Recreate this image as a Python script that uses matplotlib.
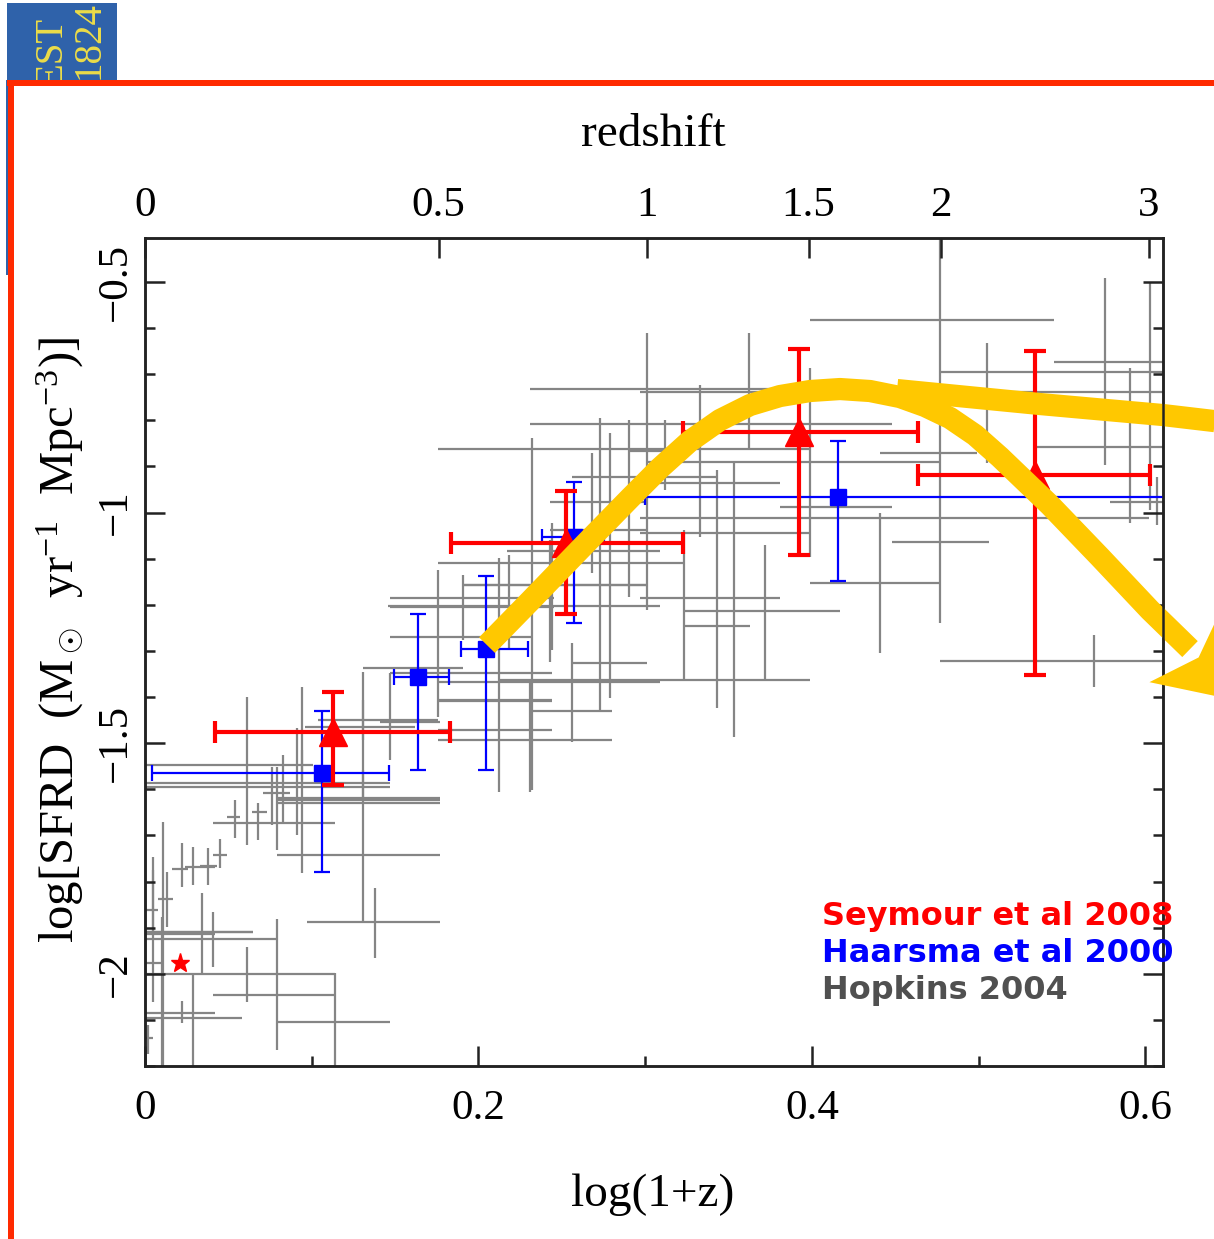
import numpy as np
import matplotlib
matplotlib.use("Agg")
import matplotlib.pyplot as plt
from matplotlib.patches import Rectangle, Polygon
from matplotlib.transforms import IdentityTransform

plt.rcParams['font.family'] = ['Liberation Serif', 'DejaVu Serif']
plt.rcParams['mathtext.fontset'] = 'custom'
plt.rcParams['mathtext.rm'] = 'Liberation Serif'
plt.rcParams['mathtext.it'] = 'Liberation Serif:italic'

# Seymour et al 2008 (red triangles), log(1+z) vs log SFRD
sey_x = np.array([0.113, 0.2525, 0.392, 0.534])
sey_y = np.array([-1.476, -1.066, -0.825, -0.919])
sey_xlo = np.array([0.042, 0.1835, 0.3226, 0.4636])
sey_xhi = np.array([0.183, 0.3226, 0.4636, 0.6027])
sey_ylo = np.array([-1.591, -1.220, -1.092, -1.352])
sey_yhi = np.array([-1.389, -0.953, -0.645, -0.650])
star_x = [0.021]
star_y = [-1.977]

# Haarsma et al 2000 (blue squares)
haa_x = np.array([0.106, 0.164, 0.2045, 0.257, 0.4156])
haa_y = np.array([-1.565, -1.357, -1.296, -1.053, -0.966])
haa_xlo = np.array([0.0042, 0.1493, 0.1895, 0.2381, 0.300])
haa_xhi = np.array([0.1463, 0.1823, 0.2297, 0.2753, 0.700])
haa_ylo = np.array([-1.780, -1.559, -1.559, -1.240, -1.149])
haa_yhi = np.array([-1.431, -1.220, -1.138, -0.934, -0.845])

# Hopkins 2004 compilation (grey crosses): x, y, x range, y range
hop_x = np.array([0.011, 0.005, 0.013, 0.022, 0.029, 0.038, 0.045, 0.054, 0.061, 0.068,
                  0.034, 0.041, 0.114, 0.029, 0.022, 0.061, 0.079, 0.002, 0.010, 0.005,
                  0.131, 0.138, 0.076, 0.091, 0.083, 0.079, 0.094, 0.094, 0.131, 0.147,
                  0.131, 0.117, 0.176, 0.191, 0.212, 0.218, 0.232, 0.231, 0.244, 0.243,
                  0.256, 0.273, 0.279, 0.225, 0.213, 0.210, 0.225, 0.195, 0.290, 0.268,
                  0.362, 0.333, 0.301, 0.309, 0.312, 0.333, 0.343, 0.353, 0.372, 0.369,
                  0.399, 0.477, 0.505, 0.576, 0.591, 0.603, 0.607, 0.441, 0.477, 0.569,
                  0.465, 0.309, 0.249, 0.353, 0.323])
hop_y = np.array([-1.910, -1.925, -1.838, -1.773, -1.769, -1.767, -1.743, -1.661, -1.674, -1.650,
                  -1.914, -1.910, -2.001, -2.084, -2.097, -2.045, -2.105, -2.140, -1.977, -1.862,
                  -1.743, -1.888, -1.609, -1.624, -1.619, -1.630, -1.595, -1.548, -1.587, -1.454,
                  -1.450, -1.465, -1.337, -1.157, -1.205, -1.270, -1.186, -1.407, -1.038, -1.084,
                  -1.327, -1.431, -1.157, -1.494, -1.472, -1.409, -1.368, -1.348, -1.110, -0.977,
                  -0.732, -0.808, -0.891, -0.862, -0.867, -0.923, -1.012, -0.936, -1.186, -1.214,
                  -0.988, -0.582, -0.739, -0.695, -0.858, -0.674, -0.977, -1.153, -1.064, -1.322,
                  -0.871, -1.045, -1.203, -1.246, -1.363])
hop_xlo = np.array([-0.003, -0.003, 0.008, 0.016, 0.024, 0.033, 0.041, 0.049, 0.041, 0.064,
                    -0.003, -0.003, -0.003, -0.003, -0.003, 0.041, 0.079, -0.003, -0.003, -0.003,
                    0.079, 0.097, 0.071, 0.079, 0.079, 0.079, -0.003, -0.003, -0.003, 0.141,
                    0.104, 0.096, 0.131, 0.191, 0.147, 0.147, 0.147, 0.176, 0.243, 0.217,
                    0.256, 0.231, 0.191, 0.176, 0.176, 0.176, 0.176, 0.147, 0.176, 0.243,
                    0.231, 0.231, 0.301, 0.176, 0.291, 0.256, 0.297, 0.297, 0.297, 0.323,
                    0.381, 0.399, 0.297, 0.477, 0.533, 0.545, 0.579, 0.399, 0.448, 0.477,
                    0.441, 0.297, 0.146, 0.323, 0.212])
hop_xhi = np.array([0.065, 0.079, 0.017, 0.026, 0.042, 0.043, 0.049, 0.057, 0.114, 0.073,
                    0.042, 0.065, 0.114, 0.042, 0.058, 0.114, 0.147, 0.005, 0.010, 0.008,
                    0.177, 0.177, 0.087, 0.177, 0.177, 0.177, 0.147, 0.101, 0.147, 0.177,
                    0.176, 0.162, 0.191, 0.301, 0.245, 0.232, 0.245, 0.244, 0.301, 0.309,
                    0.301, 0.280, 0.301, 0.280, 0.244, 0.244, 0.309, 0.244, 0.323, 0.301,
                    0.429, 0.448, 0.477, 0.399, 0.314, 0.343, 0.602, 0.381, 0.381, 0.417,
                    0.448, 0.545, 0.615, 0.615, 0.615, 0.615, 0.615, 0.477, 0.506, 0.615,
                    0.499, 0.399, 0.309, 0.363, 0.399])
hop_ylo = np.array([-2.209, -2.062, -1.899, -1.812, -1.808, -1.808, -1.771, -1.706, -1.721, -1.710,
                    -1.999, -1.986, -2.209, -2.209, -2.107, -2.062, -2.166, -2.173, -2.209, -1.917,
                    -1.888, -1.966, -1.678, -1.700, -1.671, -1.732, -1.782, -1.580, -1.624, -1.537,
                    -1.494, -1.465, -1.444, -1.277, -1.606, -1.298, -1.602, -1.606, -1.298, -1.324,
                    -1.498, -1.433, -1.402, -1.494, -1.472, -1.409, -1.368, -1.348, -1.183, -1.131,
                    -0.860, -1.053, -1.212, -0.862, -0.951, -0.923, -1.424, -1.196, -1.363, -1.214,
                    -1.097, -1.240, -0.893, -0.897, -1.023, -0.995, -1.027, -1.305, -1.064, -1.379,
                    -0.871, -1.045, -1.203, -1.487, -1.363])
hop_yhi = np.array([-1.671, -1.747, -1.780, -1.717, -1.726, -1.728, -1.708, -1.624, -1.400, -1.630,
                    -1.825, -1.867, -1.999, -2.003, -2.058, -1.943, -1.882, -2.112, -1.877, -1.776,
                    -1.346, -1.815, -1.552, -1.468, -1.526, -1.552, -1.379, -1.515, -1.559, -1.348,
                    -1.407, -1.465, -1.125, -1.136, -1.099, -1.092, -0.838, -1.370, -1.023, -1.060,
                    -1.283, -0.795, -0.828, -1.494, -1.472, -1.409, -1.368, -1.348, -0.799, -0.871,
                    -0.611, -0.723, -0.611, -0.862, -0.799, -0.923, -0.908, -0.893, -1.071, -1.214,
                    -0.687, -0.387, -0.632, -0.491, -0.687, -0.500, -0.923, -1.001, -1.064, -1.266,
                    -0.871, -1.045, -1.203, -1.196, -1.038])

# hand-drawn yellow arrows laid over the slide
arrow1_x = np.array([0.2051, 0.2309, 0.2651, 0.2909, 0.3088, 0.3268, 0.3448, 0.3628, 0.3808,
                     0.3988, 0.4168, 0.4348, 0.4528, 0.4678, 0.4828, 0.4978, 0.5127, 0.5277,
                     0.5427, 0.5727, 0.6027, 0.6267])
arrow1_y = np.array([-1.2874, -1.1920, -1.0640, -0.9685, -0.9035, -0.8449, -0.7993, -0.7668,
                     -0.7473, -0.7364, -0.7321, -0.7364, -0.7495, -0.7690, -0.7950, -0.8319,
                     -0.8796, -0.9317, -0.9837, -1.0965, -1.2115, -1.2960])
arrow2_x = np.array([0.451, 0.5367, 0.6105, 0.6411, 0.6507])
arrow2_y = np.array([-0.7343, -0.7646, -0.7885, -0.8015, -0.8060])

z_ticks = [0, 0.5, 1, 1.5, 2, 3]
z_labels = ['0', '0.5', '1', '1.5', '2', '3']

W, H = 1214, 1239
fig = plt.figure(figsize=(W / 100, H / 100), dpi=100)
fig.patch.set_facecolor('white')

# slide decoration: logo and red frame
logo = Rectangle((7 / W, 1 - 80 / H), 110 / W, 77 / H, transform=fig.transFigure,
                 facecolor='#2f62aa', edgecolor='none')
fig.add_artist(logo)
fig.add_artist(Rectangle((6 / W, 1 - 275 / H), 4 / W, 195 / H, transform=fig.transFigure,
                         facecolor='#2f62aa', edgecolor='none'))
for s, xp, yp in [('EST', 52, 86), ('1824', 89, 79)]:
    t = fig.text(xp / W, 1 - yp / H, s, rotation=90, ha='center', va='bottom',
                 fontsize=28, color='#ecdc48')
    t.set_clip_path(logo)
fig.add_artist(Rectangle((7 / W, 1 - 86 / H), 1207 / W, 6 / H, transform=fig.transFigure,
                         facecolor='#ff2a00', edgecolor='none'))
fig.add_artist(Rectangle((8 / W, 0), 6 / W, 1 - 80 / H, transform=fig.transFigure,
                         facecolor='#ff2a00', edgecolor='none'))

ax = fig.add_axes([145 / W, 1 - 1066 / H, 1018 / W, 828 / H])
ax.set_xlim(0, 0.6105)
ax.set_ylim(-2.2, -0.4046)

ax.errorbar(hop_x, hop_y,
            xerr=[np.maximum(hop_x - hop_xlo, 0), np.maximum(hop_xhi - hop_x, 0)],
            yerr=[np.maximum(hop_y - hop_ylo, 0), np.maximum(hop_yhi - hop_y, 0)],
            fmt='none', ecolor='#858585', elinewidth=1.6, capsize=0, zorder=1)
ax.errorbar(haa_x, haa_y, xerr=[haa_x - haa_xlo, haa_xhi - haa_x],
            yerr=[haa_y - haa_ylo, haa_yhi - haa_y], fmt='s', color='#0000ff',
            ms=11.5, elinewidth=1.6, capsize=5.5, capthick=1.6, zorder=3)
ax.errorbar(sey_x, sey_y, xerr=[sey_x - sey_xlo, sey_xhi - sey_x],
            yerr=[sey_y - sey_ylo, sey_yhi - sey_y], fmt='^', color='#ff0000',
            ms=20, elinewidth=3, capsize=8, capthick=3, zorder=4)
ax.plot(star_x, star_y, marker='*', color='#ff0000', ms=14, ls='none', zorder=4)

gold = '#ffc800'
ax.plot(arrow1_x, arrow1_y, color=gold, lw=16, solid_capstyle='butt',
        solid_joinstyle='round', clip_on=False, zorder=6)
ax.plot(arrow2_x, arrow2_y, color=gold, lw=16, solid_capstyle='butt',
        solid_joinstyle='round', clip_on=False, zorder=6)
# arrow head at the end of the curved arrow
p = ax.transData.transform(np.column_stack([arrow1_x[-2:], arrow1_y[-2:]]))
d = (p[1] - p[0]) / np.hypot(*(p[1] - p[0]))
n = np.array([-d[1], d[0]])
base = p[1] - d * 6
head = np.array([base + d * 82, base + n * 52, base + d * 18, base - n * 52])
fig.add_artist(Polygon(head, closed=True, facecolor=gold, edgecolor='none',
                       transform=IdentityTransform(), zorder=7))

for sp in ax.spines.values():
    sp.set_linewidth(1.8)
    sp.set_color('#222222')

ax.set_xticks([0, 0.2, 0.4, 0.6])
ax.set_xticklabels(['0', '0.2', '0.4', '0.6'])
ax.set_xticks([0.1, 0.3, 0.5], minor=True)
ax.set_yticks([-2, -1.5, -1, -0.5])
ax.set_yticklabels(['\u22122', '\u22121.5', '\u22121', '\u22120.5'])
ax.set_yticks(np.arange(-2.2, -0.4, 0.1), minor=True)
ax.tick_params(which='both', direction='in', top=False, right=True, width=1.8, color='#222222')
ax.tick_params(which='major', length=14.5)
ax.tick_params(which='minor', length=7)
ax.tick_params(axis='x', labelsize=31, pad=17)
ax.tick_params(axis='y', labelsize=31, pad=7, labelrotation=90)
for lab in ax.get_yticklabels():
    lab.set_va('center')

ax2 = ax.twiny()
ax2.set_xlim(ax.get_xlim())
ax2.set_xticks(np.log10(1 + np.array(z_ticks)))
ax2.set_xticklabels(z_labels)
ax2.tick_params(direction='in', length=14.5, width=1.8, color='#222222', labelsize=31, pad=9)
for sp in ax2.spines.values():
    sp.set_linewidth(1.8)
    sp.set_color('#222222')

fig.text(653 / W, 1 - 135 / H, 'redshift', ha='center', va='center', fontsize=34)
fig.text(653 / W, 1 - 1195 / H, 'log(1+z)', ha='center', va='center', fontsize=34)
fig.text(60 / W, 1 - 640 / H, r'log[SFRD  (M$_\odot$  yr$^{-1}$  Mpc$^{-3}$)]',
         rotation=90, ha='center', va='center', fontsize=35)

leg = [('Seymour et al 2008', '#ff0000', 925), ('Haarsma et al 2000', '#0000ff', 962),
       ('Hopkins 2004', '#505050', 999)]
for s, c, yb in leg:
    fig.text(822 / W, 1 - yb / H, s, color=c, fontsize=23, fontweight='bold',
             family='DejaVu Sans', va='baseline', ha='left', zorder=8)

fig.savefig('out.png', dpi=100)
